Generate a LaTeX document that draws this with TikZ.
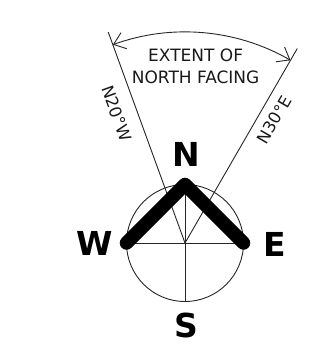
\documentclass[tikz,border=0pt]{standalone}
\usepackage{fontspec}
\setmainfont{DejaVu Sans}
\usetikzlibrary{arrows.meta}

\begin{document}
\begin{tikzpicture}[>={Straight Barb[length=11pt,width=17pt]}, x=1pt, y=1pt,
    thinline/.style={line width=0.9pt, black!85},
    heading/.style={font=\fontsize{33}{33}\selectfont\bfseries, inner sep=0pt},
    extent/.style={font=\fontsize{17}{17}\selectfont, inner sep=0pt, text=black!90},
    limittext/.style={font=\fontsize{16.5}{16.5}\selectfont, inner sep=0pt, text=black!90}]
  %================= Parameters =================
  \def\Rc{58.5}    % circle radius
  \def\Rl{224.5}   % length of the limit lines
  \def\Ra{211}     % radius of the extent arc
  \useasboundingbox (-185,-118) rectangle (135,243);

  %================= Points =================
  \coordinate (centre) at (0,0);
  \coordinate (north) at (90:\Rc);
  \coordinate (south) at (-90:\Rc);
  \coordinate (west) at (180:\Rc);
  \coordinate (east) at (0:\Rc);
  \coordinate (limitW) at (110:\Rl);
  \coordinate (limitE) at (60:\Rl);

  %================= Circle and cross =================
  \draw[thinline] (centre) circle (\Rc);
  \draw[thinline] (west) -- (east);
  \draw[thinline] (north) -- (south);

  %================= Limits of north facing =================
  \draw[thinline] (centre) -- (limitW);
  \draw[thinline] (centre) -- (limitE);
  \draw[thinline, <->] (110:\Ra) arc (110:60:\Ra);

  %================= Heavy north facing mark =================
  \draw[line width=13.5pt, line cap=round, line join=round] (west) -- (north) -- (east);

  %================= Labels =================
  \node[heading] (labelN) at (1.7,88.7) {N};
  \node[heading] (labelS) at (1.7,-82.7) {S};
  \node[heading] (labelW) at (-90.5,0) {W};
  \node[heading] (labelE) at (89.5,-1) {E};
  \node[extent] (extent1) at (10.6,187.3) {EXTENT OF};
  \node[extent] (extent2) at (10.6,165.7) {NORTH FACING};
  \node[limittext, rotate=-70] (limitWtext) at (-68.3,129.7) {N20°W};
  \node[limittext, rotate=60] (limitEtext) at (89.3,123) {N30°E};
\end{tikzpicture}
\end{document}
